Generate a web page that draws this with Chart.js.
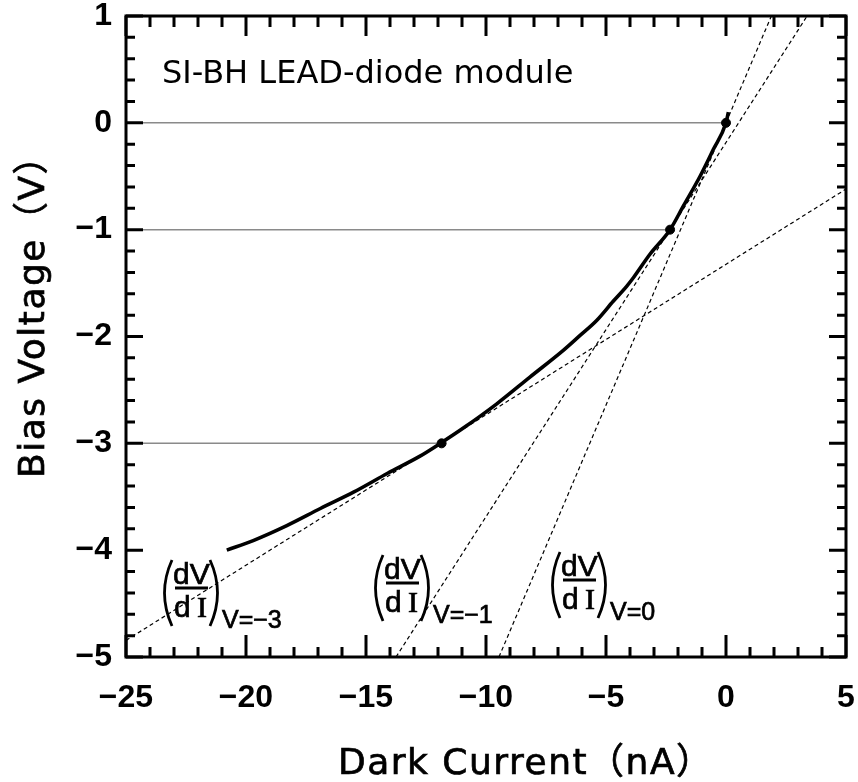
<!DOCTYPE html>
<html>
<head>
<meta charset="utf-8">
<script src="https://cdn.jsdelivr.net/npm/chart.js@4.4.1/dist/chart.umd.min.js"></script>
<style>
  html, body { margin: 0; padding: 0; background: #fff; }
</style>
</head>
<body>
<canvas id="myChart" width="858" height="782"></canvas>
<script>
// measured I-V curve : dark current (nA) vs bias voltage (V)
const curveI = [-20.8, -19.7, -18.3, -16.9, -15.5, -14.1, -12.75, -11.9, -10.9, -9.55, -8.17, -6.78, -6.08, -5.39, -4.7, -4.14, -3.86, -3.17, -2.33, -1.78, -1.08, -0.53, 0, 0.1];
const curveV = [-4.0, -3.91, -3.77, -3.61, -3.455, -3.28, -3.12, -3.0, -2.85, -2.63, -2.38, -2.13, -1.99, -1.85, -1.67, -1.53, -1.45, -1.23, -1.0, -0.78, -0.5, -0.25, 0, 0.1];

// points where the slope was taken
const markI = [0, -2.33, -11.85];
const markV = [0, -1, -3];

// tangent lines (end points)
const tanV0I = [-9.46, 1.89];
const tanV0V = [-5, 1];
const tanV1I = [-13.75, 3.38];
const tanV1V = [-5, 1];
const tanV3I = [-25, 5];
const tanV3V = [-4.845, -0.62];

const xMin = -25, xMax = 5;
const yMin = -5, yMax = 1;

function pts(xs, ys) {
    return xs.map((x, i) => ({x: x, y: ys[i]}));
}
function fmt(v) {
    return v < 0 ? '\u2212' + Math.abs(v) : '' + v;
}

// gray guide lines from the left axis to each mark
let guides = markI.map((x, i) => ({
    data: pts([xMin, x], [markV[i], markV[i]]),
    showLine: true, borderColor: '#8a8a8a', borderWidth: 1.5, pointRadius: 0
}));

let dashed = [[tanV0I, tanV0V], [tanV1I, tanV1V], [tanV3I, tanV3V]].map(t => ({
    data: pts(t[0], t[1]),
    showLine: true, borderColor: '#000', borderWidth: 1.2, borderDash: [4, 3], pointRadius: 0
}));

let datasets = [
    {data: pts(markI, markV), pointRadius: 4.5, pointBackgroundColor: '#000', pointBorderColor: '#000', showLine: false},
    {data: pts(curveI, curveV), showLine: true, borderColor: '#000', borderWidth: 3.6, pointRadius: 0,
     cubicInterpolationMode: 'monotone'}
].concat(dashed, guides);

function boldText(ctx, s, x, y) {
    ctx.fillText(s, x, y);
    ctx.lineWidth = 0.7;
    ctx.strokeText(s, x, y);
}

// frame, inward ticks, note and annotations
const decor = {
    id: 'decor',
    afterDraw(chart) {
        const ctx = chart.ctx;
        const a = chart.chartArea;
        const sx = chart.scales.x, sy = chart.scales.y;
        ctx.save();
        ctx.strokeStyle = '#000';
        ctx.lineWidth = 3;
        ctx.beginPath();
        for (let v = xMin; v <= xMax; v++) {
            let p = sx.getPixelForValue(v);
            let major = v % 5 === 0;
            ctx.moveTo(p, a.bottom); ctx.lineTo(p, a.bottom - (major ? 22 : 10));
            ctx.moveTo(p, a.top); ctx.lineTo(p, a.top + (major ? 20 : 11));
        }
        for (let k = 0; k <= 30; k++) {
            let v = yMin + k * 0.2;
            let p = sy.getPixelForValue(v);
            let major = k % 5 === 0;
            ctx.moveTo(a.left, p); ctx.lineTo(a.left + (major ? 17 : 9), p);
            ctx.moveTo(a.right, p); ctx.lineTo(a.right - (major ? 17 : 9), p);
        }
        ctx.stroke();
        ctx.strokeRect(a.left, a.top, a.right - a.left, a.bottom - a.top);

        ctx.fillStyle = '#000';
        ctx.textBaseline = 'alphabetic';
        ctx.textAlign = 'left';
        ctx.font = '32px "DejaVu Sans"';
        ctx.fillText('SI-BH LEAD-diode module', 162, 83);

        // axis titles
        ctx.font = '36px "DejaVu Sans", "Noto Sans CJK JP"';
        ctx.letterSpacing = '1.5px';
        boldText(ctx, 'Dark Current\uFF08nA\uFF09', 338, 774);
        ctx.save();
        ctx.translate(44, 478);
        ctx.rotate(-Math.PI / 2);
        boldText(ctx, 'Bias Voltage\uFF08V\uFF09', 0, 0);
        ctx.restore();
        ctx.letterSpacing = '0px';

        drawSlope(ctx, 162, 588, 'V=\u22123');
        drawSlope(ctx, 373, 583, 'V=\u22121');
        drawSlope(ctx, 550, 580, 'V=0');
        ctx.restore();
    }
};

function drawSlope(ctx, x0, bar, sub) {
    ctx.lineWidth = 2.8;
    ctx.beginPath();
    ctx.moveTo(x0 + 10, bar - 28);
    ctx.quadraticCurveTo(x0 - 5, bar + 5, x0 + 10, bar + 38);
    ctx.moveTo(x0 + 48, bar - 28);
    ctx.quadraticCurveTo(x0 + 63, bar + 5, x0 + 48, bar + 38);
    ctx.moveTo(x0 + 13, bar);
    ctx.lineTo(x0 + 46, bar);
    ctx.stroke();
    ctx.textAlign = 'left';
    ctx.font = '30px "Liberation Sans"';
    boldText(ctx, 'dV', x0 + 11, bar - 4);
    boldText(ctx, 'd', x0 + 12, bar + 29);
    ctx.font = '30px "Liberation Serif"';
    boldText(ctx, 'I', x0 + 35, bar + 29);
    ctx.font = '25px "Liberation Sans"';
    boldText(ctx, sub, x0 + 60, bar + 40);
}

let ctx = document.getElementById('myChart');
let myChart = new Chart(ctx.getContext('2d'), {
    type: 'scatter',
    data: {datasets: datasets},
    options: {
        responsive: false,
        animation: false,
        layout: {padding: {top: 16, right: 12, left: 0, bottom: 0}},
        plugins: {legend: {display: false}, tooltip: {enabled: false}},
        scales: {
            x: {
                type: 'linear', min: xMin, max: xMax,
                grid: {display: false, drawTicks: false},
                border: {display: false},
                ticks: {stepSize: 5, padding: 22, color: '#000', maxRotation: 0,
                        font: {family: 'Liberation Sans', size: 32, weight: 'bold'}, callback: fmt},
                afterFit: s => { s.height = 125; s.paddingLeft = 0; s.paddingRight = 0; }
            },
            y: {
                type: 'linear', min: yMin, max: yMax,
                grid: {display: false, drawTicks: false},
                border: {display: false},
                ticks: {stepSize: 1, padding: 14, color: '#000',
                        font: {family: 'Liberation Sans', size: 32, weight: 'bold'}, callback: fmt},
                afterFit: s => { s.width = 126; s.paddingTop = 0; s.paddingBottom = 0; }
            }
        }
    },
    plugins: [decor]
});
</script>
</body>
</html>
